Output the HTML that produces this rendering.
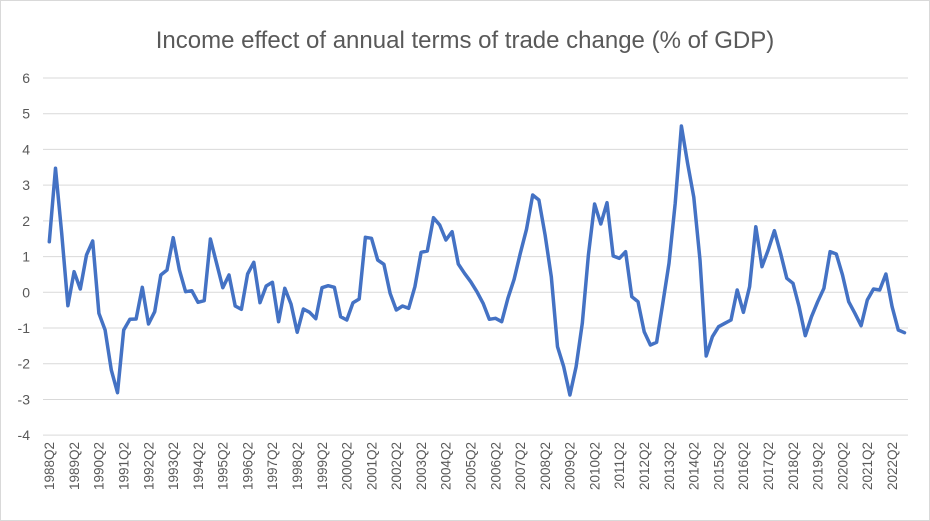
<!DOCTYPE html>
<html><head><meta charset="utf-8"><style>
html,body{margin:0;padding:0;background:#fff}
svg{display:block;font-family:"Liberation Sans",sans-serif}
</style></head><body>
<svg id="s" width="930" height="521" viewBox="0 0 930 521" xmlns="http://www.w3.org/2000/svg">
<rect x="0.5" y="0.5" width="929" height="520" fill="#fff" stroke="#d9d9d9"/>
<text x="465" y="48" text-anchor="middle" font-size="24" fill="#595959">Income effect of annual terms of trade change (% of GDP)</text>
<g id="grid" stroke="#d9d9d9" stroke-width="1"></g>
<g id="yl" font-size="14" fill="#595959" text-anchor="end"></g>
<g id="xl" font-size="13.5" fill="#595959"></g>
<polyline id="ln" fill="none" stroke="#4472c4" stroke-width="3.5" stroke-linejoin="round" stroke-linecap="round"/>
</svg>
<script>
var ns="http://www.w3.org/2000/svg";
function el(t,a,p,txt){var e=document.createElementNS(ns,t);for(var k in a)e.setAttribute(k,a[k]);if(txt!=null)e.textContent=txt;document.getElementById(p).appendChild(e);return e;}
for(var v=6;v>=-4;v--){var y=292.3-v*35.72;
 el("line",{x1:43,x2:908,y1:y,y2:y},"grid");
 el("text",{x:30,y:y+5},"yl",String(v));}
var ys=[241.7,168.3,233.3,305.7,271.7,289,255,241,313.3,330,370,392.7,330,319.3,319,287.3,324,311.7,275,270,237.7,270,291.7,290.7,302.3,300.7,239,263.3,287.7,275,306,309.3,274,262.3,302.7,286,282.3,321.7,288.3,304,332.3,309,312.3,318.7,287.7,285.7,287.3,316.7,
320,302.7,299,237.3,238.3,260,264.3,293.3,310,306,308.3,286.7,252.3,251,217.7,225,240,231.7,264,273.3,281.7,291.7,303.3,319.3,318.3,321.7,298.3,279.3,253.3,229.3,195,200,235,276.7,346.7,366.7,395,366.7,323.3,255,204,224,202.7,256,258.3,251.7,296.7,
301.7,331.7,345,342.3,303.3,263.3,203.3,126,163.3,197.3,260,356,336.7,326.7,323.3,320,290,312.3,286.7,226.7,266.7,250,230.7,253.3,278.3,283.3,306.7,335.7,316.7,301.7,288.3,251.7,254,275,301.7,313.3,325.7,300,289,290,274,306.7,330,332.7];
var x0=49.3,dx=(904.5-49.3)/(ys.length-1),pts=[];
for(var i=0;i<ys.length;i++)pts.push((x0+i*dx).toFixed(1)+","+ys[i]);
document.getElementById("ln").setAttribute("points",pts.join(" "));
for(var i=0;i<=136;i+=4){var x=x0+i*dx+4.8,yr=1988+i/4;
 el("text",{x:0,y:0,transform:"translate("+x+",442) rotate(-90)","text-anchor":"end"},"xl",yr+"Q2");}
</script>
</body></html>
